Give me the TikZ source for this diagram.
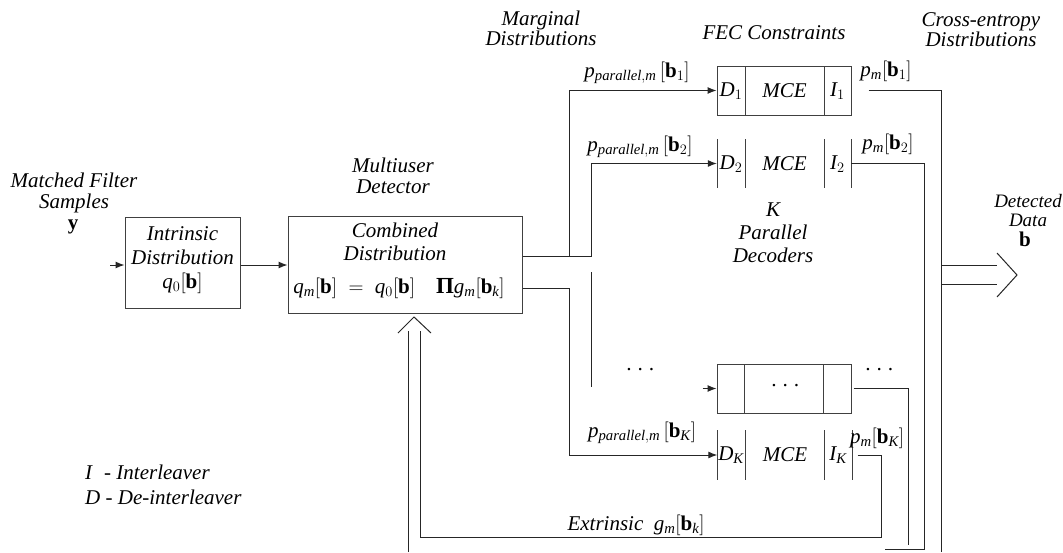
\documentclass[tikz,border=0pt]{standalone}
\usepackage{fontspec}
\setmainfont{Liberation Serif}
\usetikzlibrary{arrows.meta}
\newcommand{\bfb}{\mathbf{b}}
\newcommand{\itm}[1]{\mathit{#1}}
\begin{document}
\begin{tikzpicture}[x=1pt,y=-1pt,
  txt/.style={font=\fontsize{21}{21}\selectfont\itshape, align=center, inner sep=0pt},
  txtb/.style={font=\fontsize{21}{21}\selectfont\bfseries, inner sep=0pt},
  wire/.style={line width=1pt, draw=black!85},
  arr/.style={wire, -{Latex[length=9pt,width=7pt]}},
  boxs/.style={draw=black!75, line width=1pt, inner sep=0pt},
  slot/.style={inner sep=0pt, minimum width=134, minimum height=49},
]
\useasboundingbox (0,0) rectangle (1063,552);

% ---------- left part ----------
\node[txt] (mfs) at (74,193) {Matched Filter\\Samples};
\node[txtb] (yv) at (73,227) {y};
\node[boxs, minimum width=115, minimum height=91] (intr) at (182.5,262.5) {};
\node[txt, font=\fontsize{21}{24}\selectfont\itshape] (intrt) at (182.5,260) {Intrinsic\\Distribution\\$\itm{q}_0[\bfb]$};

\node[txt] (mud) at (393,176) {Multiuser\\Detector};
\node[boxs, minimum width=234, minimum height=97] (comb) at (405,264.5) {};
\node[txt, font=\fontsize{21}{23}\selectfont\itshape] (combt) at (395,242) {Combined\\Distribution};
\node[txt] (combf) at (399,288) {$\itm{q}_{\itm{m}}[\bfb] \;=\; \itm{q}_0[\bfb]\quad \mbox{\upshape\bfseries\fontsize{23}{23}\selectfont Π}\itm{g}_{\itm{m}}[\bfb_{\itm{k}}]$};

% ---------- header labels ----------
\node[txt, font=\fontsize{21}{20}\selectfont\itshape] (marg) at (541,28) {Marginal\\Distributions};
\node[txt] (fec) at (774,33) {FEC Constraints};
\node[txt, font=\fontsize{21}{20}\selectfont\itshape] (cross) at (981,30) {Cross-entropy\\Distributions};
\node[txt, font=\fontsize{19}{19}\selectfont\itshape] (det) at (1028,201) {Detected};
\node[txt, font=\fontsize{19}{19}\selectfont\itshape] (data) at (1028,220) {Data};
\node[txtb] (bout) at (1025,239) {b};
\node[txt, font=\fontsize{21}{23}\selectfont\itshape] (kpd) at (773,233) {K\\Parallel\\Decoders};

% ---------- decoder rows ----------
% row 1
\node[boxs, slot] (fec1) at (784,90.5) {};
\draw[boxs] (745,66) -- (745,115) (824,66) -- (824,115);
\node[txt] (d1) at (731,91) {$\itm{D}_1$};
\node[txt] (mce1) at (784.5,91) {MCE};
\node[txt] (i1) at (837.5,91) {$\itm{I}_1$};
% row 2
\node[slot] (fec2) at (784,163.5) {};
\draw[boxs] (717,139) -- (717,188) (745,139) -- (745,188) (824,139) -- (824,188) (851,139) -- (851,188);
\node[txt] (d2) at (731,164) {$\itm{D}_2$};
\node[txt] (mce2) at (784.5,164) {MCE};
\node[txt] (i2) at (837.5,164) {$\itm{I}_2$};
% dots row
\node[boxs, slot] (fec3) at (784,388.5) {};
\draw[boxs] (744,364) -- (744,413) (823,364) -- (823,413);
\node[txt] (dots3) at (785,388) {·\hspace{6pt}·\hspace{6pt}·};
\node[txt] (dotsl) at (640,372) {·\hspace{6pt}·\hspace{6pt}·};
\node[txt] (dotsr) at (879,372) {·\hspace{6pt}·\hspace{6pt}·};
% row K
\node[slot] (fecK) at (784.5,455) {};
\draw[boxs] (717,430) -- (717,480) (745,430) -- (745,480) (824,430) -- (824,480) (852,430) -- (852,480);
\node[txt] (dK) at (731,455) {$\itm{D}_{\itm{K}}$};
\node[txt] (mceK) at (785,455) {MCE};
\node[txt] (iK) at (838,455) {$\itm{I}_{\itm{K}}$};

% ---------- connector labels ----------
\node[txt] (pp1) at (637,73) {$\itm{p}_{\itm{parallel,m}}\,[\bfb_1]$};
\node[txt] (pp2) at (640,147) {$\itm{p}_{\itm{parallel,m}}\,[\bfb_2]$};
\node[txt] (ppK) at (642,433) {$\itm{p}_{\itm{parallel,m}}\,[\bfb_{\itm{K}}]$};
\node[txt] (pm1) at (886,71) {$\itm{p}_{\itm{m}}[\bfb_1]$};
\node[txt] (pm2) at (888,144) {$\itm{p}_{\itm{m}}[\bfb_2]$};
\node[txt] (pmK) at (877,438) {$\itm{p}_{\itm{m}}[\bfb_{\itm{K}}]$};
\node[txt] (ext) at (636,525) {Extrinsic\ \ $\itm{g}_{\itm{m}}[\bfb_{\itm{k}}]$};

\node[txt, anchor=west] (leg1) at (85,472) {I\hspace{12pt}- Interleaver};
\node[txt, anchor=west] (leg2) at (85,497) {D - De-interleaver};

% ---------- connectors ----------
\coordinate (yin) at (110,265);
\draw[arr] (yin) -- (intr.west |- yin);
\draw[arr] (intr.east |- 0,265) -- (comb.west |- 0,265);

\draw[arr] (comb.east |- 0,256) -- (591,256) -- (591,163.5) -- (fec2.west);
\draw[arr] (569,256) -- (569,90.5) -- (fec1.west);
\draw[arr] (comb.east |- 0,288) -- (569,288) -- (569,455) -- (fecK.west);
\draw[wire] (591,272) -- (591,387);
\draw[arr] ([xshift=-14pt]fec3.west) -- (fec3.west);

\draw[wire] ([xshift=17pt]fec1.east) -- (941,90.5) -- (941,552);
\draw[wire] (fec2.east) -- (924,163.5) -- (924,549) -- (885,549);
\draw[wire] ([xshift=2pt]fec3.east) -- (908,388.5) -- (908,545);
\draw[wire] ([xshift=6pt]fecK.east) -- (881,455) -- (881,537) -- (420,537) -- (420,331);
\draw[wire] (408,552) -- (408,331);

% hollow feedback arrow head
\coordinate (fbtip) at (414,317);
\draw[wire] (398,333) -- (fbtip) -- (431,333);

% double-line output arrow
\coordinate (outtip) at (1017,275);
\draw[wire] (941,265) -- (997,265) (941,284) -- (997,284);
\draw[wire] (997,253) -- (outtip) -- (997,297);
\end{tikzpicture}
\end{document}
